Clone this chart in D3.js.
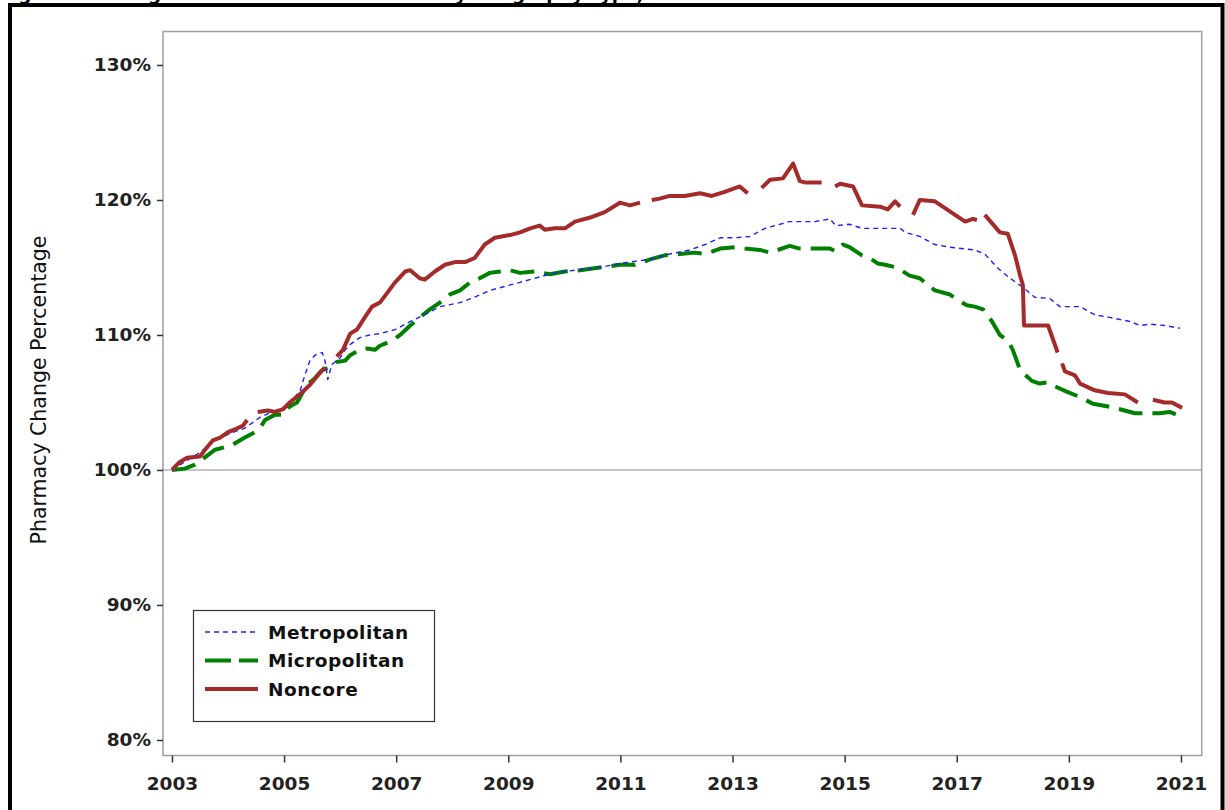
<!DOCTYPE html>
<html>
<head>
<meta charset="utf-8">
<script src="https://cdn.jsdelivr.net/npm/d3@7"></script>
<style>
  html, body { margin: 0; padding: 0; background: #fff; }
  svg { display: block; }
</style>
</head>
<body>
<svg id="chart" width="1225" height="810"></svg>
<script>
// ---------- DATA ----------
const seriesNames = ["Metropolitan", "Micropolitan", "Noncore"];
const xTickYears = [2003, 2005, 2007, 2009, 2011, 2013, 2015, 2017, 2019, 2021];
const yTickValues = [80, 90, 100, 110, 120, 130];
const yTickLabels = ["80%", "90%", "100%", "110%", "120%", "130%"];

const metroYears = [2003.00,2003.23,2003.50,2003.77,2004.03,2004.30,2004.57,2004.84,2005.02,2005.14,2005.28,2005.37,2005.46,2005.55,2005.68,2005.73,2005.78,2005.85,2006.00,2006.09,2006.18,2006.35,2006.53,2006.71,2006.98,2007.25,2007.51,2007.78,2008.14,2008.40,2008.67,2008.94,2009.21,2009.56,2009.83,2010.19,2010.63,2010.99,2011.35,2011.62,2011.88,2012.24,2012.51,2012.78,2013.04,2013.31,2013.58,2014.02,2014.47,2014.74,2014.84,2015.09,2015.31,2015.63,2015.99,2016.08,2016.34,2016.61,2016.88,2017.32,2017.50,2017.72,2017.95,2018.16,2018.39,2018.66,2018.84,2019.20,2019.46,2019.73,2020.09,2020.27,2020.45,2020.71,2020.98];
const metroValues = [100.0,100.6,101.3,102.2,102.7,103.1,103.9,104.4,104.6,105.2,105.8,107.0,108.1,108.5,108.7,108.1,106.7,107.8,108.3,108.9,109.3,109.8,110.0,110.1,110.4,111.0,111.5,112.1,112.4,112.8,113.3,113.6,113.9,114.3,114.6,114.8,115.0,115.3,115.5,115.7,116.0,116.3,116.7,117.2,117.2,117.3,117.9,118.4,118.4,118.6,118.1,118.2,117.9,117.9,117.9,117.6,117.3,116.7,116.5,116.3,116.0,115.0,114.2,113.6,112.8,112.7,112.1,112.1,111.5,111.3,111.0,110.7,110.8,110.7,110.5];

const microYears = [2003.00,2003.23,2003.41,2003.64,2003.77,2003.95,2004.09,2004.30,2004.48,2004.57,2004.66,2004.84,2004.98,2005.10,2005.23,2005.41,2005.55,2005.68,2005.82,2005.94,2006.09,2006.18,2006.35,2006.48,2006.62,2006.71,2006.94,2007.07,2007.25,2007.42,2007.60,2007.78,2007.96,2008.14,2008.32,2008.49,2008.67,2008.85,2009.03,2009.21,2009.48,2009.74,2010.01,2010.28,2010.63,2010.99,2011.26,2011.53,2011.79,2012.06,2012.33,2012.51,2012.78,2013.04,2013.22,2013.49,2013.67,2014.02,2014.20,2014.47,2014.74,2014.83,2014.97,2015.09,2015.31,2015.45,2015.59,2015.72,2015.93,2016.16,2016.34,2016.61,2016.88,2016.97,2017.18,2017.32,2017.47,2017.63,2017.77,2017.91,2018.00,2018.13,2018.34,2018.48,2018.63,2018.75,2018.96,2019.20,2019.43,2019.70,2019.91,2020.18,2020.50,2020.62,2020.80,2020.98];
const microValues = [100.0,100.1,100.4,101.1,101.5,101.7,101.9,102.4,102.8,103.1,103.7,104.1,104.1,104.7,105.0,106.3,106.8,107.4,107.6,108.0,108.1,108.5,108.9,109.0,108.9,109.2,109.6,110.0,110.7,111.3,111.9,112.4,113.0,113.3,113.9,114.2,114.6,114.7,114.8,114.6,114.7,114.5,114.7,114.8,115.0,115.2,115.2,115.6,115.9,116.0,116.1,116.0,116.4,116.5,116.4,116.3,116.1,116.6,116.4,116.4,116.4,116.2,116.7,116.5,115.9,115.7,115.3,115.2,115.0,114.4,114.2,113.3,113.0,112.7,112.2,112.1,111.9,111.0,110.0,109.6,108.9,107.4,106.6,106.4,106.5,106.2,105.8,105.4,104.9,104.7,104.5,104.2,104.2,104.2,104.3,104.0];

// null = missing value (gap in the line)
const noncoreYears = [2003.00,2003.14,2003.27,2003.50,2003.59,2003.73,2003.86,2004.00,2004.12,2004.27,2004.34,2004.44,2004.53,2004.71,2004.84,2004.98,2005.10,2005.28,2005.46,2005.64,2005.73,2005.83,2005.94,2006.05,2006.18,2006.30,2006.44,2006.57,2006.71,2006.98,2007.16,2007.25,2007.42,2007.51,2007.69,2007.87,2008.05,2008.23,2008.40,2008.58,2008.76,2009.03,2009.21,2009.39,2009.56,2009.65,2009.83,2010.01,2010.19,2010.46,2010.72,2010.99,2011.17,2011.35,2011.45,2011.56,2011.70,2011.88,2012.15,2012.42,2012.63,2012.86,2013.13,2013.27,2013.40,2013.52,2013.67,2013.90,2014.08,2014.20,2014.29,2014.59,2014.70,2014.83,2014.92,2015.15,2015.31,2015.63,2015.77,2015.90,2015.99,2016.10,2016.22,2016.34,2016.61,2016.97,2017.15,2017.29,2017.36,2017.43,2017.50,2017.77,2017.91,2018.04,2018.13,2018.18,2018.20,2018.39,2018.63,2018.80,2018.85,2018.88,2018.93,2019.11,2019.20,2019.46,2019.70,2020.00,2020.23,2020.35,2020.50,2020.71,2020.84,2021.02];
const noncoreValues = [100.0,100.6,100.9,101.0,101.5,102.2,102.4,102.8,103.0,103.3,103.7,null,104.3,104.4,104.3,104.5,105.0,105.6,106.3,107.2,107.6,null,108.4,108.9,110.1,110.4,111.3,112.1,112.4,113.9,114.7,114.8,114.2,114.1,114.7,115.2,115.4,115.4,115.7,116.7,117.2,117.4,117.6,117.9,118.1,117.8,117.9,117.9,118.4,118.7,119.1,119.8,119.6,119.8,null,120.0,120.1,120.3,120.3,120.5,120.3,120.6,121.0,120.5,null,120.9,121.5,121.6,122.7,121.4,121.3,121.3,null,121.0,121.2,121.0,119.6,119.5,119.3,119.9,119.5,null,118.9,120.0,119.9,118.9,118.4,118.6,118.5,null,118.9,117.6,117.5,115.9,114.4,113.7,110.7,110.7,110.7,108.7,null,107.9,107.3,107.0,106.4,105.9,105.7,105.6,105.0,null,105.2,105.0,105.0,104.6];

// ---------- STYLES ----------
const colors = { Metropolitan: "#1f1fff", Micropolitan: "#008000", Noncore: "#a52a2a" };
const widths = { Metropolitan: 1.4, Micropolitan: 4, Noncore: 4 };
const dashes = { Metropolitan: "5 4", Micropolitan: "24 10", Noncore: null };

const svg = d3.select("#chart");
const W = 1225, H = 810;
const plot = { left: 163, right: 1201.7, top: 31.5, bottom: 755.5 };

const x = d3.scaleLinear().domain([2002.84, 2021.37]).range([plot.left, plot.right]);
const y = d3.scaleLinear().domain([78.85, 132.48]).range([plot.bottom, plot.top]);

const font = "'DejaVu Sans', Verdana, sans-serif";

// Title, cut off at the very top as in the reference
svg.append("text")
  .attr("x", 0).attr("y", 0)
  .attr("font-family", font).attr("font-size", 18).attr("font-weight", "bold")
  .attr("fill", "#000")
  .text("Figure 2. Change in Number of Pharmacies by Geography Type, 2003–2021");

// Outer black frame
svg.append("path")
  .attr("d", `M10,${H + 5} V5 H1222.5 V${H + 5}`)
  .attr("fill", "none").attr("stroke", "#000").attr("stroke-width", 4);

// Plot area border
svg.append("rect")
  .attr("x", plot.left).attr("y", plot.top)
  .attr("width", plot.right - plot.left).attr("height", plot.bottom - plot.top)
  .attr("fill", "none").attr("stroke", "#a0a0a0").attr("stroke-width", 1.5);

// Reference line at 100%
svg.append("line")
  .attr("x1", plot.left).attr("x2", plot.right)
  .attr("y1", y(100)).attr("y2", y(100))
  .attr("stroke", "#8c8c8c").attr("stroke-width", 1.2);

// Y axis
const yAxis = d3.axisLeft(y).tickValues(yTickValues)
  .tickFormat((d, i) => yTickLabels[i]).tickSize(6).tickPadding(6);
const gy = svg.append("g").attr("transform", `translate(${plot.left},0)`).call(yAxis);
gy.select(".domain").remove();
gy.selectAll(".tick line").attr("stroke", "#333").attr("stroke-width", 1.5);
gy.selectAll(".tick text").attr("font-family", font).attr("font-size", 18.5)
  .attr("font-weight", "bold").attr("fill", "#222");

// X axis
const xAxis = d3.axisBottom(x).tickValues(xTickYears).tickFormat(d3.format("d"))
  .tickSize(7).tickPadding(14);
const gx = svg.append("g").attr("transform", `translate(0,${plot.bottom})`).call(xAxis);
gx.select(".domain").remove();
gx.selectAll(".tick line").attr("stroke", "#333").attr("stroke-width", 1.5);
gx.selectAll(".tick text").attr("font-family", font).attr("font-size", 18.5)
  .attr("font-weight", "bold").attr("fill", "#222");

// Y axis title
svg.append("text")
  .attr("transform", "translate(46,390) rotate(-90)")
  .attr("text-anchor", "middle")
  .attr("font-family", font).attr("font-size", 20.5).attr("fill", "#111")
  .text("Pharmacy Change Percentage");

// Lines
const toPoints = (ys, vs) => ys.map((yr, i) => ({ year: yr, value: vs[i] }));
const seriesData = {
  Metropolitan: toPoints(metroYears, metroValues),
  Micropolitan: toPoints(microYears, microValues),
  Noncore: toPoints(noncoreYears, noncoreValues)
};
const line = d3.line()
  .defined(d => d.value !== null)
  .x(d => x(d.year)).y(d => y(d.value));

const drawOrder = ["Micropolitan", "Metropolitan", "Noncore"];
drawOrder.forEach(name => {
  svg.append("path")
    .datum(seriesData[name])
    .attr("d", line)
    .attr("fill", "none")
    .attr("stroke", colors[name])
    .attr("stroke-width", widths[name])
    .attr("stroke-dasharray", dashes[name])
    .attr("stroke-linejoin", "round");
});

// Legend
const lg = svg.append("g");
lg.append("rect").attr("x", 193.5).attr("y", 610.5).attr("width", 241).attr("height", 111)
  .attr("fill", "#fff").attr("stroke", "#333").attr("stroke-width", 1.2);
const legendY = d3.scalePoint().domain(seriesNames).range([632, 689]);
seriesNames.forEach(name => {
  const yy = legendY(name);
  lg.append("line").attr("x1", 205).attr("x2", 258).attr("y1", yy).attr("y2", yy)
    .attr("stroke", colors[name]).attr("stroke-width", widths[name])
    .attr("stroke-dasharray", name === "Metropolitan" ? "5 4" : (name === "Micropolitan" ? "26 8" : null));
  lg.append("text").attr("x", 268).attr("y", yy).attr("dy", "0.36em")
    .attr("font-family", font).attr("font-size", 18.5).attr("font-weight", "bold")
    .attr("fill", "#111").attr("letter-spacing", 0.5)
    .text(name);
});
</script>
</body>
</html>
